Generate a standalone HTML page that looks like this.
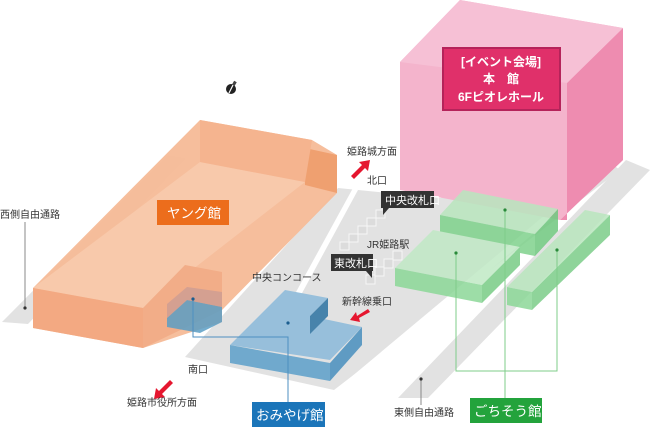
<!DOCTYPE html>
<html><head><meta charset="utf-8"><style>
body{margin:0;background:#fff;}
svg{display:block;font-family:"Liberation Sans","Noto Sans CJK JP",sans-serif;}
</style></head><body>
<svg width="650" height="427" viewBox="0 0 650 427" xmlns="http://www.w3.org/2000/svg">
<!-- ground -->
<polygon points="2,322,28,324,186,158,168,155" fill="#e2e2e2"/>
<polygon points="185,357,338,188,440,198,612,164,620,170,334,390" fill="#e2e2e2"/>
<polygon points="398,398,428,398,650,170,626,160" fill="#e2e2e2"/>
<polygon points="338,388,344,392,612,168,606,164" fill="#fff"/>
<polygon points="296,292,301,295,358,190,353,188" fill="#fff"/>
<!-- gates -->
<g fill="#dcdcdc" stroke="#f6f6f6" stroke-width="1">
<rect x="340" y="242" width="9" height="8"/><rect x="349" y="234" width="9" height="8"/><rect x="358" y="226" width="9" height="8"/><rect x="367" y="218" width="9" height="8"/><rect x="376" y="210" width="9" height="8"/>
<rect x="366" y="275" width="9" height="9"/><rect x="375" y="267" width="9" height="9"/><rect x="384" y="259" width="9" height="9"/><rect x="393" y="251" width="9" height="9"/>
</g>
<!-- orange -->
<polygon points="33,288,200,120,312,140,337,155,337,193,222,310,222,322,143,348,33,328" fill="#f6bb97" opacity="0.95"/>
<polygon points="33,288,200,162,305,182,143,308" fill="#f8c9ab"/>
<polygon points="33,288,143,308,143,348,33,328" fill="#f3a982"/>
<polygon points="143,308,185,265,222,272,222,310,143,348" fill="#f2ad88"/>
<polygon points="305,148,337,155,337,193,305,185" fill="#efa070"/>
<polygon points="200,120,312,140,305,182,200,162" fill="#f5b48f"/>
<!-- small blue -->
<polygon points="167,318,187,300,222,307,222,322,200,333,167,327" fill="#5a9ec4" opacity="0.85"/>
<polygon points="167,304,187,287,222,292,222,307,187,300,167,318" fill="#c79a96" opacity="0.7"/>
<!-- pink -->
<polygon points="400,62,460,0,623,28,623,160,560,220,400,190" fill="#f4b4cc"/>
<polygon points="567,83,623,28,623,160,560,220,567,220" fill="#ee8cb0"/>
<polygon points="400,62,460,0,623,28,567,83" fill="#f6c0d5"/>
<rect x="443" y="48" width="117" height="62" fill="#e0306a" stroke="#b5235a" stroke-width="2"/>
<g fill="#fff" font-size="12" font-weight="bold" text-anchor="middle">
<text x="501" y="66">[イベント会場]</text><text x="501" y="83">本　館</text><text x="501" y="101">6Fピオレホール</text></g>
<!-- green -->
<g opacity="0.85">
<polygon points="440,215,463,190,558,209,535,234" fill="#b9e6be"/>
<polygon points="440,215,535,234,535,256,440,237" fill="#7fd28c"/>
<polygon points="535,234,558,209,558,231,535,256" fill="#6fc77e"/>
<polygon points="395,268,433,230,520,247,482,285" fill="#c0e9c5"/>
<polygon points="395,268,482,285,482,303,395,286" fill="#8cd898"/>
<polygon points="482,285,520,247,520,265,482,303" fill="#78cc86"/>
<polygon points="507,287,532,292,610,215,585,210" fill="#b9e6be"/>
<polygon points="507,287,532,292,532,310,507,305" fill="#8cd898"/>
<polygon points="532,292,610,215,610,235,532,310" fill="#7ccd89"/>
</g>
<!-- blue -->
<g opacity="0.95">
<polygon points="230,345,285,290,328,298,310,316,362,327,330,360" fill="#93bedb"/>
<polygon points="230,345,330,363,330,381,230,363" fill="#6aa6cc"/>
<polygon points="330,363,362,327,362,345,330,381" fill="#5898c2"/>
<polygon points="310,316,328,298,328,316,310,334" fill="#3f7ea9"/>
</g>
<!-- leaders -->
<g fill="none" stroke-width="1">
<path d="M193,299V337H288V402" stroke="#4d8fc0"/>
<path d="M505,210V398M456,253V371H557V250" stroke="#7fcc8a"/>
<path d="M25,222V308M421,379V405" stroke="#888"/>
</g>
<g><circle cx="193" cy="299" r="1.6" fill="#1b5d8f"/><circle cx="288" cy="323" r="1.6" fill="#1b5d8f"/>
<circle cx="505" cy="210" r="1.6" fill="#2a8a3a"/><circle cx="456" cy="253" r="1.6" fill="#2a8a3a"/><circle cx="557" cy="250" r="1.6" fill="#2a8a3a"/>
<circle cx="25" cy="308" r="1.6" fill="#333"/><circle cx="421" cy="379" r="1.6" fill="#333"/></g>
<!-- red arrows -->
<g fill="#e5162f">
<polygon points="351,176,362,165,359,162,370,160,368,171,365,168,354,179"/>
<polygon points="170,380,159,391,156,388,154,399,165,397,162,394,173,383"/>
<polygon points="368,309,357,316,356,312,350,320,360,322,359,318,370,312"/>
</g>
<!-- dark labels -->
<rect x="381" y="191" width="53" height="17" fill="#333"/>
<polygon points="383,208,383,215,389,208" fill="#333"/>
<rect x="331" y="254" width="42" height="17" fill="#333"/>
<polygon points="366,271,372,278,372,271" fill="#333"/>
<g fill="#fff" font-size="11"><text x="385" y="204">中央改札口</text><text x="334" y="267">東改札口</text></g>
<!-- colored labels -->
<rect x="157" y="200" width="72" height="25" fill="#ec6d1c"/>
<rect x="252" y="402" width="73" height="25" fill="#1b75b9"/>
<rect x="470" y="398" width="72" height="25" fill="#23a33c"/>
<g fill="#fff" font-size="13.5"><text x="167" y="218">ヤング館</text><text x="256" y="420">おみやげ館</text><text x="474" y="416">ごちそう館</text></g>
<!-- text -->
<g fill="#333" font-size="10">
<text x="0" y="218">西側自由通路</text>
<text x="252" y="281">中央コンコース</text>
<text x="188" y="373">南口</text>
<text x="127" y="406">姫路市役所方面</text>
<text x="347" y="155">姫路城方面</text>
<text x="367" y="184">北口</text>
<text x="367" y="248">JR姫路駅</text>
<text x="342" y="305">新幹線乗口</text>
<text x="394" y="416">東側自由通路</text>
</g>
<circle cx="231" cy="89" r="5" fill="#222"/>
<line x1="229" y1="93" x2="233" y2="85" stroke="#fff" stroke-width="1.2"/>
<rect x="233" y="81" width="3" height="4" fill="#444" transform="rotate(30 234 83)"/>
</svg>
</body></html>
